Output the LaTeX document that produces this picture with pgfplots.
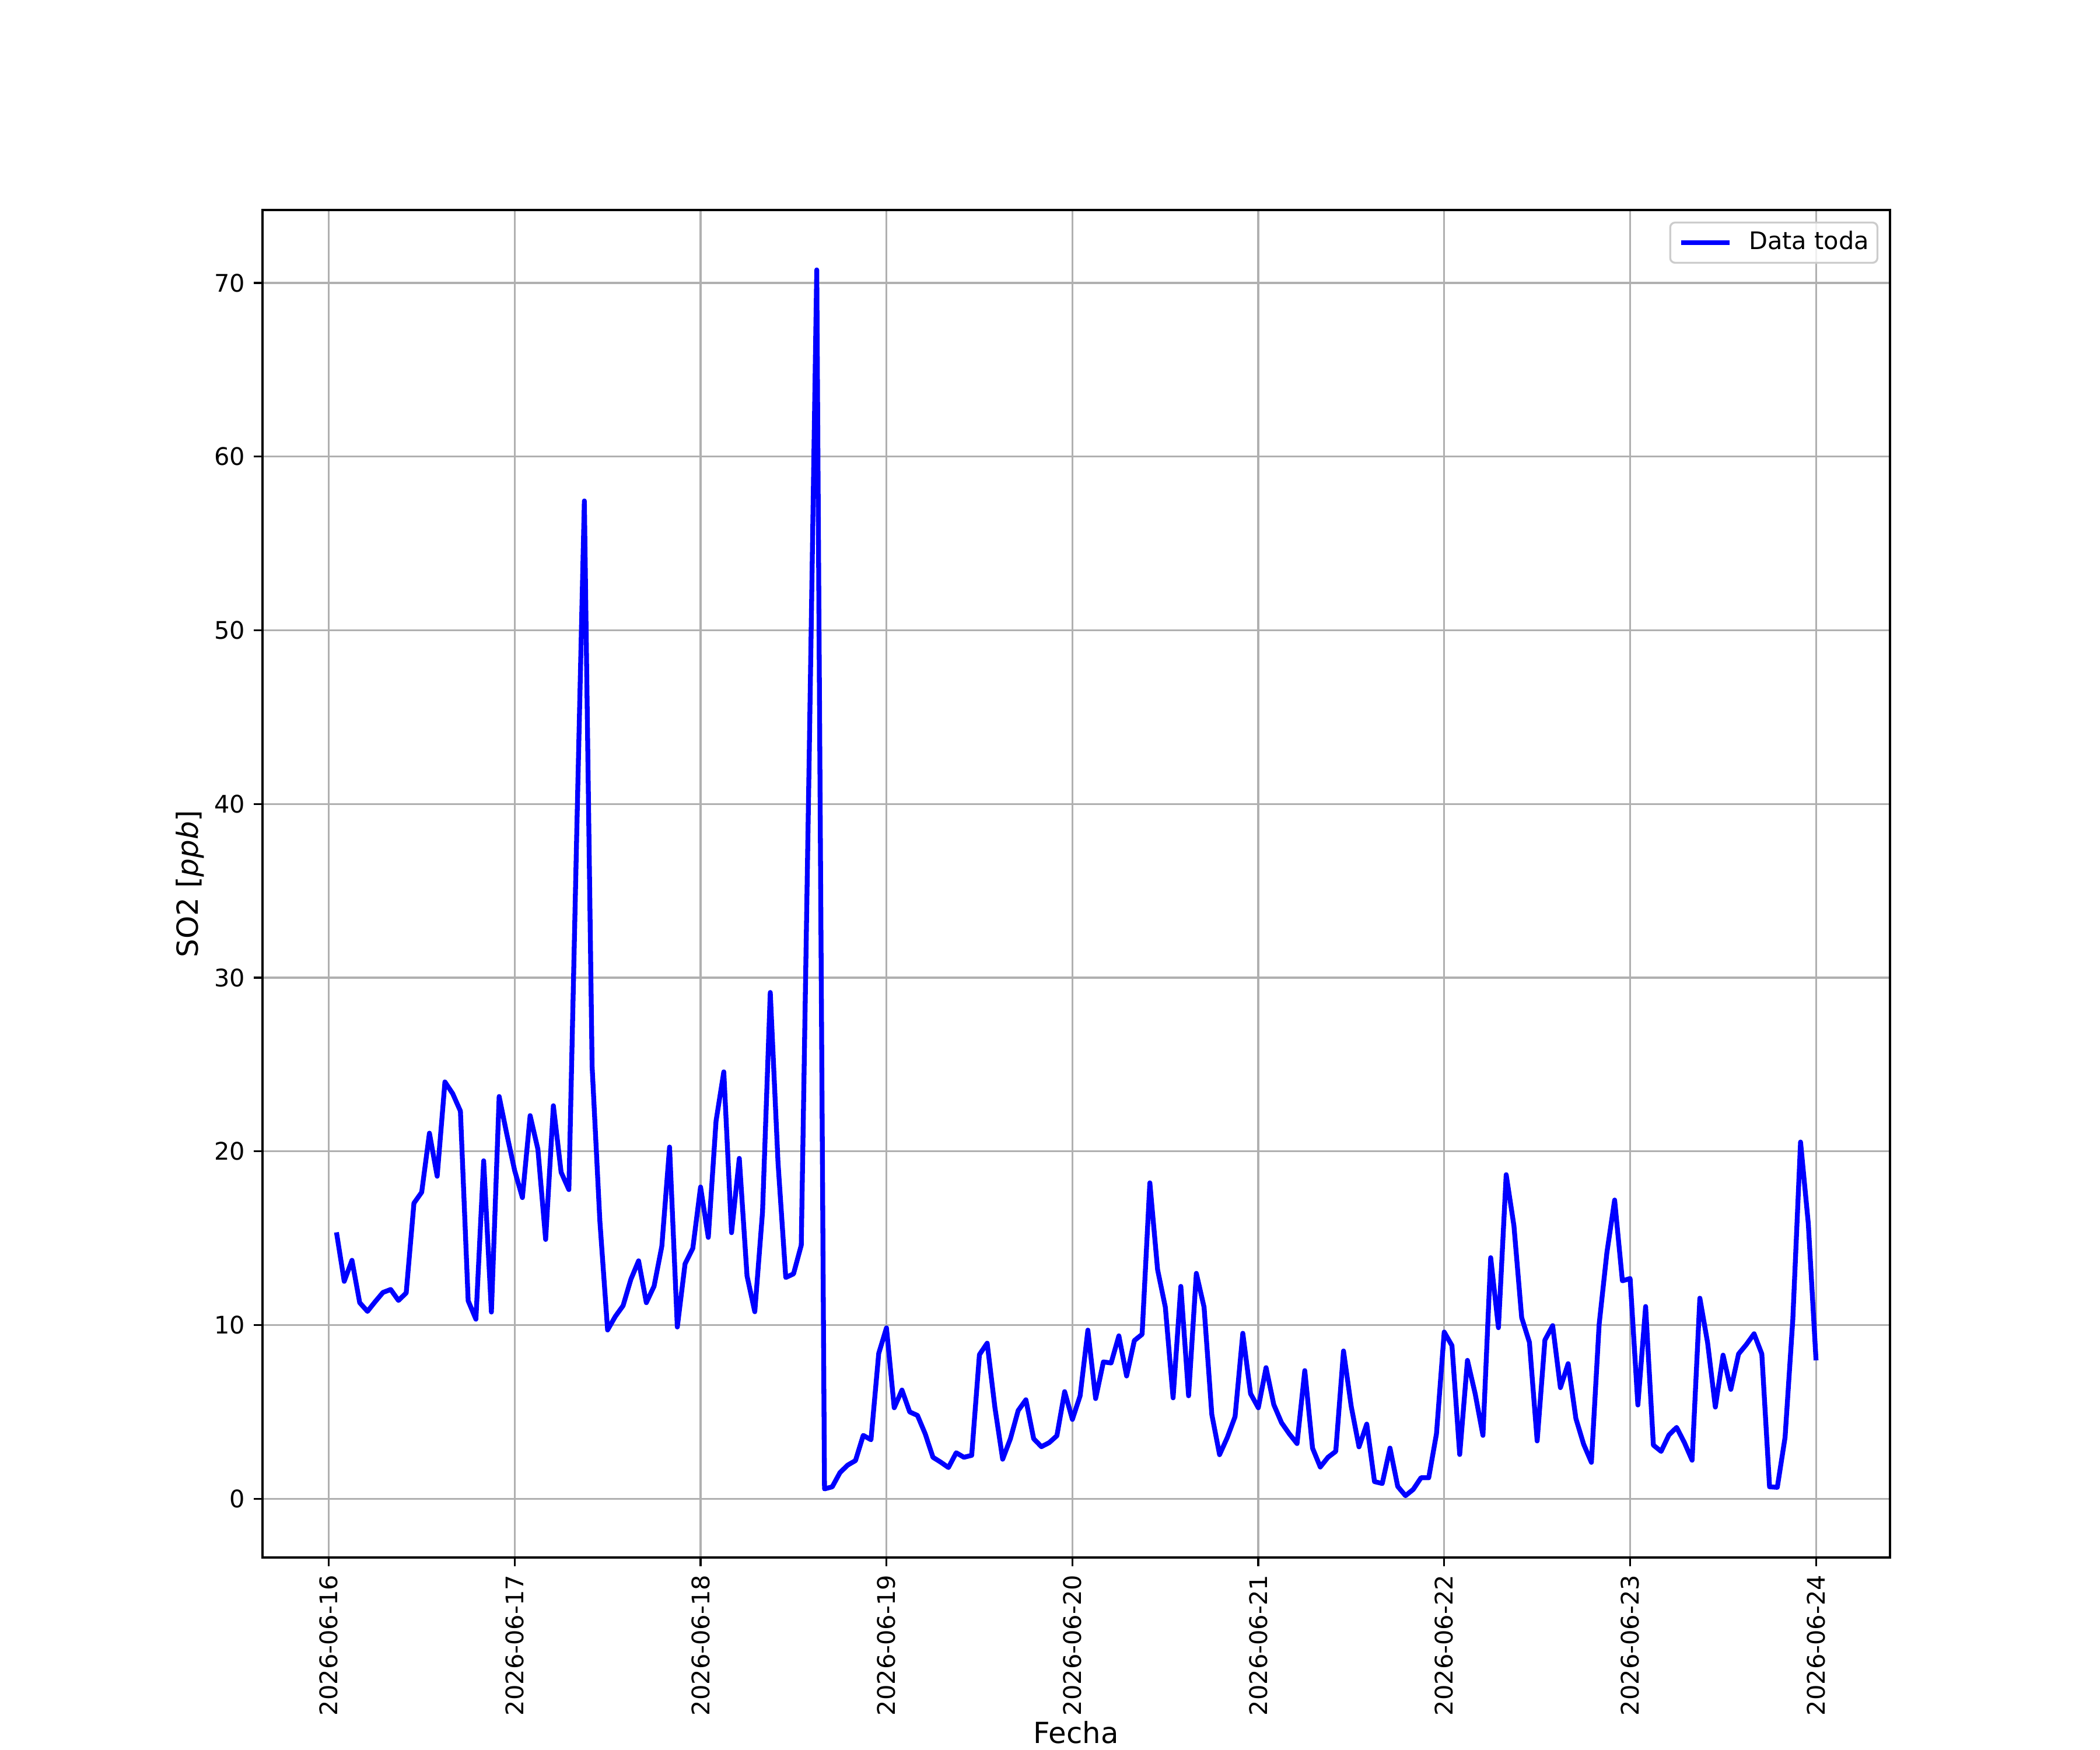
\documentclass[border=0pt]{standalone}
\usepackage{fontspec}
\setmainfont{DejaVu Sans}
\usepackage{pgfplots}
\usepackage{pgfplotstable}
\pgfplotsset{compat=1.18}
\pgfplotstableread{
h v
1 15.34
2 12.52
3 13.73
4 11.29
5 10.79
6 11.35
7 11.88
8 12.05
9 11.42
10 11.85
11 17.02
12 17.65
13 21.05
14 18.57
15 24.0
16 23.33
17 22.32
18 11.40
19 10.34
20 19.46
21 10.75
22 23.16
23 20.97
24 18.9
25 17.34
26 22.06
27 20.13
28 14.93
29 22.63
30 18.8
31 17.8
32 38.0
33 57.45
34 24.9
35 16.0
36 9.72
37 10.5
38 11.12
39 12.63
40 13.7
41 11.29
42 12.24
43 14.54
44 20.25
45 9.89
46 13.53
47 14.42
48 17.95
49 15.05
50 21.75
51 24.58
52 15.32
53 19.6
54 12.83
55 10.77
56 16.52
57 29.15
58 19.35
59 12.74
60 12.95
61 14.6
62 42.0
63 70.75
64 0.57
65 0.69
66 1.51
67 1.94
68 2.2
69 3.65
70 3.4
71 8.37
72 9.84
73 5.24
74 6.26
75 5.0
76 4.8
77 3.74
78 2.39
79 2.11
80 1.80
81 2.65
82 2.39
83 2.5
84 8.3
85 8.96
86 5.25
87 2.28
88 3.46
89 5.08
90 5.7
91 3.46
92 3.0
93 3.23
94 3.63
95 6.17
96 4.57
97 5.93
98 9.71
99 5.77
100 7.88
101 7.82
102 9.38
103 7.07
104 9.11
105 9.47
106 18.19
107 13.19
108 11.03
109 5.81
110 12.23
111 5.93
112 12.98
113 11.03
114 4.85
115 2.54
116 3.53
117 4.73
118 9.53
119 6.05
120 5.24
121 7.55
122 5.42
123 4.38
124 3.74
125 3.18
126 7.38
127 2.92
128 1.83
129 2.39
130 2.73
131 8.51
132 5.31
133 2.99
134 4.30
135 0.99
136 0.88
137 2.92
138 0.71
139 0.18
140 0.54
141 1.21
142 1.21
143 3.74
144 9.6
145 8.82
146 2.55
147 7.97
148 6.04
149 3.65
150 13.88
151 9.85
152 18.66
153 15.72
154 10.43
155 9.01
156 3.33
157 9.14
158 9.97
159 6.4
160 7.78
161 4.62
162 3.14
163 2.1
164 10.04
165 14.17
166 17.2
167 12.55
168 12.68
169 5.4
170 11.07
171 3.09
172 2.73
173 3.67
174 4.11
175 3.24
176 2.22
177 11.55
178 8.99
179 5.28
180 8.27
181 6.30
182 8.34
183 8.88
184 9.5
185 8.34
186 0.69
187 0.66
188 3.53
189 10.31
190 20.54
191 15.85
192 7.97
}\datatable
\definecolor{gridgray}{HTML}{B0B0B0}
\definecolor{legframe}{HTML}{CCCCCC}
\begin{document}
\begin{tikzpicture}
\path[use as bounding box] (0,0) rectangle (12in,10in);
\begin{axis}[
  at={(1.5in,1.1in)}, anchor=south west,
  scale only axis, width=9.3in, height=7.7in,
  xmin=-8.55, xmax=201.55, ymin=-3.38, ymax=74.2,
  xtick={0,24,...,192},
  xticklabels={2026-06-16,2026-06-17,2026-06-18,2026-06-19,2026-06-20,2026-06-21,2026-06-22,2026-06-23,2026-06-24},
  ytick={0,10,...,70},
  xtick pos=bottom, ytick pos=left,
  tick align=outside, major tick length=3.5pt,
  tick style={black, line width=0.8pt},
  axis line style={line width=0.8pt},
  grid=major, major grid style={color=gridgray, line width=0.8pt},
  ticklabel style={font=\fontsize{10}{12}\selectfont, inner sep=0pt},
  xticklabel style={rotate=90, anchor=east},
  yticklabel style={anchor=east},
  xticklabel shift=3.5pt, yticklabel shift=3.5pt,
  /pgf/number format/assume math mode=true,
  xlabel={Fecha}, ylabel={SO2 [\textit{ppb}]},
  label style={font=\fontsize{12}{14.4}\selectfont, inner sep=0pt},
  xlabel style={yshift=-2pt},
  ylabel style={yshift=4pt},
  legend style={at={(axis description cs:1,1)}, xshift=-4.8pt, yshift=-4.8pt, anchor=north east,
    draw=legframe, line width=0.8pt, rounded corners=2pt, fill=white, fill opacity=0.8, text opacity=1,
    font=\fontsize{10}{12}\selectfont, inner xsep=3.5pt, inner ysep=3.5pt, column sep=7pt,
    nodes={inner sep=0pt, text depth=0.2em}},
  legend image code/.code={\draw[#1] (0pt,0pt) -- (20pt,0pt);},
]
\addplot[color=blue, line width=2pt, line join=round, mark=none] table[x=h, y=v] {\datatable};
\addlegendentry{Data toda}
\end{axis}
\end{tikzpicture}
\end{document}
